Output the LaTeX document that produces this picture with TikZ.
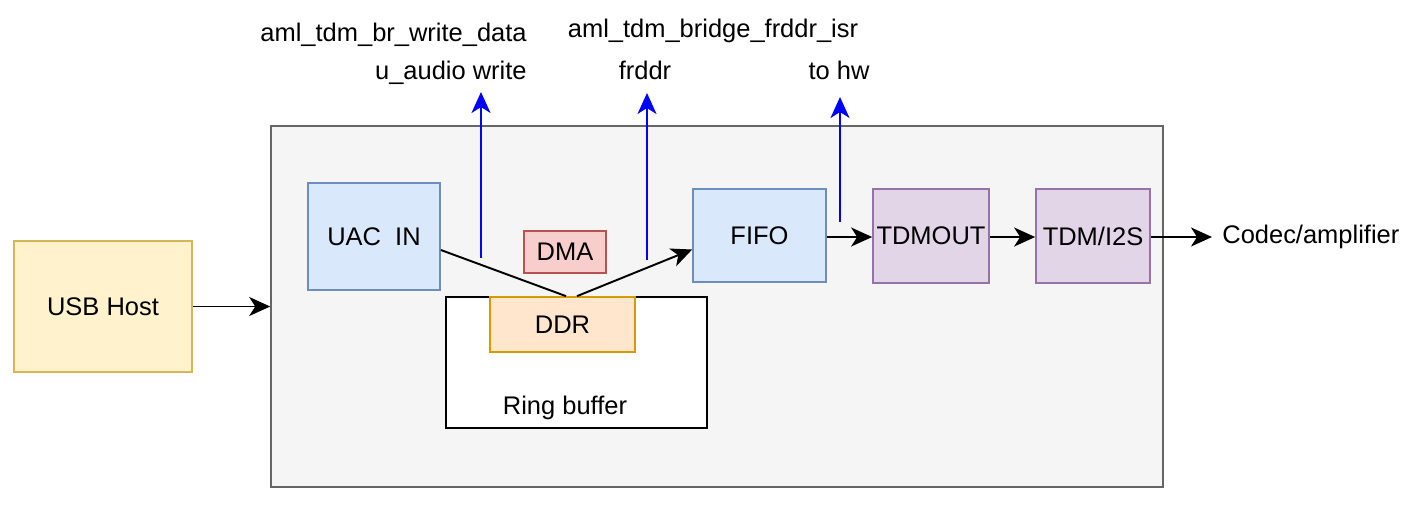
\documentclass[tikz,border=0pt]{standalone}
\usepackage{fontspec}
\setmainfont{Liberation Sans}
\usepackage{tikz}
\usetikzlibrary{arrows.meta, calc}

\definecolor{boxfill}{HTML}{F5F5F5}
\definecolor{boxdraw}{HTML}{666666}
\definecolor{usbfill}{HTML}{FFF2CC}
\definecolor{usbdraw}{HTML}{D6B656}
\definecolor{bluefill}{HTML}{DAE8FC}
\definecolor{bluedraw}{HTML}{6C8EBF}
\definecolor{redfill}{HTML}{F8CECC}
\definecolor{reddraw}{HTML}{B85450}
\definecolor{orgfill}{HTML}{FFE6CC}
\definecolor{orgdraw}{HTML}{D79B00}
\definecolor{purfill}{HTML}{E1D5E7}
\definecolor{purdraw}{HTML}{9673A6}

\begin{document}
\begin{tikzpicture}[x=0.02cm, y=-0.02cm,
  font=\fontsize{14.5}{17}\selectfont,
  blk/.style={draw, line width=1pt, inner sep=0pt},
  flow/.style={line width=1.1pt, -{Stealth[length=0.42cm, width=0.38cm, inset=0.12cm]}},
  call/.style={flow, blue},
  ]
  \useasboundingbox (0,0) rectangle (1427,525);

  % caixa principal
  \node[blk, fill=boxfill, draw=boxdraw, minimum width=17.84cm, minimum height=7.22cm] (soc) at (717,306.5) {};
  \node[blk, fill=usbfill, draw=usbdraw, minimum width=3.56cm, minimum height=2.62cm] (usb) at (103,306.5) {USB Host};
  \draw[flow] (usb.east) -- (soc.west);

  % blocos internos
  \node[blk, fill=bluefill, draw=bluedraw, minimum width=2.64cm, minimum height=2.14cm] (uac) at (374,236.5) {UAC\ \ IN};
  \node[blk, fill=white, draw=black, minimum width=5.22cm, minimum height=2.62cm] (ring) at (576.5,362.5) {};
  \node (ringtxt) at (565,408) {Ring buffer};
  \node[blk, fill=orgfill, draw=orgdraw, minimum width=2.9cm, minimum height=1.1cm] (ddr) at (562.5,324.5) {DDR};
  \node[blk, fill=redfill, draw=reddraw, minimum width=1.64cm, minimum height=0.84cm] (dma) at (565,252) {DMA};
  \node[blk, fill=bluefill, draw=bluedraw, minimum width=2.66cm, minimum height=1.86cm] (fifo) at (759.5,235.5) {FIFO};
  \node[blk, fill=purfill, draw=purdraw, minimum width=2.32cm, minimum height=1.88cm] (tdmout) at (931,236) {TDMOUT};
  \node[blk, fill=purfill, draw=purdraw, minimum width=2.28cm, minimum height=1.88cm] (tdmi2s) at (1093,236) {TDM/I2S};
  \node[anchor=west, inner sep=0pt] (codec) at (1222,237) {Codec/amplifier};

  \draw[line width=1.1pt] ([yshift=-0.27cm]uac.east) -- ([xshift=0.07cm]ddr.north);
  \draw[flow] ([xshift=0.29cm]ddr.north) -- ([yshift=-0.28cm]fifo.west);
  \draw[flow] (fifo.east |- 0,237) -- (tdmout.west |- 0,237);
  \draw[flow] (tdmout.east |- 0,237) -- (tdmi2s.west |- 0,237);
  \draw[flow] (tdmi2s.east |- 0,237) -- ([xshift=-0.2cm]codec.west);

  % chamadas
  \coordinate (wr0) at (481,258);  \coordinate (wr1) at (481,92);
  \coordinate (fr0) at (647,260);  \coordinate (fr1) at (647,93);
  \coordinate (hw0) at (840,222);  \coordinate (hw1) at (840,97);
  \draw[call] (wr0) -- (wr1);
  \draw[call] (fr0) -- (fr1);
  \draw[call] (hw0) -- (hw1);
  \node[anchor=east, inner sep=0pt] (wrtxt) at (527,73) {u\_audio write};
  \node[anchor=east, inner sep=0pt] (wrfun) at (527,35) {aml\_tdm\_br\_write\_data};
  \node (frtxt) at (645,70) {frddr};
  \node (frfun) at (713,31) {aml\_tdm\_bridge\_frddr\_isr};
  \node (hwtxt) at (839,70) {to hw};
\end{tikzpicture}
\end{document}
